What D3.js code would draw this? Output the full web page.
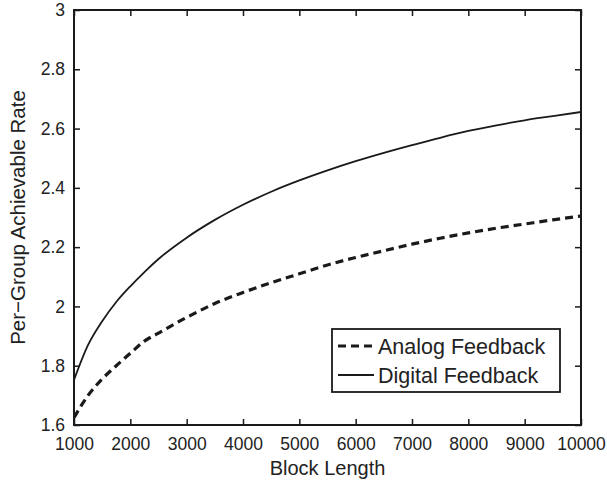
<!DOCTYPE html>
<meta charset="utf-8">
<style>
    body { margin: 0; background: #fff; }
    text { font-family: "Liberation Sans", Arial, sans-serif; fill: #222; }
</style>
<svg width="607" height="482"></svg>
<script src="https://cdn.jsdelivr.net/npm/d3@7"></script>
<script>
    // block lengths and per-group rates
    var blockLength = [1000, 1250, 1500, 1750, 2000, 2250, 2500, 3000, 3500, 4000, 4500, 5000,
        5500, 6000, 6500, 7000, 7500, 8000, 8500, 9000, 9500, 10000];
    var analogRate = [1.625, 1.70, 1.755, 1.80, 1.842, 1.883, 1.91, 1.963, 2.010, 2.047, 2.08, 2.11,
        2.14, 2.165, 2.188, 2.21, 2.23, 2.248, 2.264, 2.278, 2.292, 2.305];
    var digitalRate = [1.752, 1.87, 1.95, 2.015, 2.068, 2.116, 2.16, 2.232, 2.292, 2.343, 2.387, 2.425,
        2.459, 2.49, 2.518, 2.544, 2.569, 2.592, 2.611, 2.628, 2.642, 2.656];
    var xTicks = [1000, 2000, 3000, 4000, 5000, 6000, 7000, 8000, 9000, 10000];
    var yTicks = [1.6, 1.8, 2, 2.2, 2.4, 2.6, 2.8, 3];
    var seriesNames = ["Analog Feedback", "Digital Feedback"];

    var svg = d3.select("svg"),
        margin = { top: 10, right: 26, bottom: 57, left: 74 },
        width = +svg.attr("width") - margin.left - margin.right,
        height = +svg.attr("height") - margin.top - margin.bottom;

    var x = d3.scaleLinear().domain([1000, 10000]).range([0, width]),
        y = d3.scaleLinear().domain([1.6, 3]).range([height, 0]);

    var g = svg.append("g")
        .attr("transform", "translate(" + margin.left + "," + margin.top + ")");

    var series = [
        { name: seriesNames[0], values: analogRate, dash: "8,5", width: 3.2 },
        { name: seriesNames[1], values: digitalRate, dash: null, width: 1.8 }
    ];

    var line = d3.line()
        .curve(d3.curveMonotoneX)
        .x(function (d) { return x(d[0]); })
        .y(function (d) { return y(d[1]); });

    g.append("defs").append("clipPath").attr("id", "clip")
        .append("rect").attr("width", width).attr("height", height);

    series.forEach(function (s) {
        g.append("path")
            .datum(blockLength.map(function (b, i) { return [b, s.values[i]]; }))
            .attr("clip-path", "url(#clip)")
            .attr("fill", "none")
            .attr("stroke", "#1a1a1a")
            .attr("stroke-width", s.width)
            .attr("stroke-dasharray", s.dash)
            .attr("d", line);
    });

    // axes, matlab style: ticks inside on all four sides
    function styleAxis(sel) {
        sel.select(".domain").remove();
        sel.selectAll(".tick line").attr("stroke", "#1a1a1a").attr("stroke-width", 1.5);
        sel.selectAll(".tick text").attr("font-size", 17.5).attr("fill", "#222");
    }

    g.append("g")
        .attr("transform", "translate(0," + height + ")")
        .call(d3.axisBottom(x).tickValues(xTicks).tickSize(-6).tickPadding(13).tickFormat(d3.format("d")))
        .call(styleAxis);
    g.append("g")
        .call(d3.axisTop(x).tickValues(xTicks).tickSize(-6).tickFormat(""))
        .call(styleAxis);
    g.append("g")
        .call(d3.axisLeft(y).tickValues(yTicks).tickSize(-6).tickPadding(9).tickFormat(d3.format("")))
        .call(styleAxis);
    g.append("g")
        .attr("transform", "translate(" + width + ",0)")
        .call(d3.axisRight(y).tickValues(yTicks).tickSize(-6).tickFormat(""))
        .call(styleAxis);

    g.append("rect")
        .attr("width", width).attr("height", height)
        .attr("fill", "none").attr("stroke", "#1a1a1a").attr("stroke-width", 2);

    // axis labels
    svg.append("text")
        .attr("x", margin.left + width / 2).attr("y", 475)
        .attr("text-anchor", "middle").attr("font-size", 20)
        .text("Block Length");
    svg.append("text")
        .attr("transform", "translate(25," + (margin.top + height / 2) + ") rotate(-90)")
        .attr("text-anchor", "middle").attr("font-size", 20.5)
        .text("Per\u2212Group Achievable Rate");

    // legend
    var legend = svg.append("g").attr("transform", "translate(332,329)");
    legend.append("rect")
        .attr("width", 228).attr("height", 63)
        .attr("fill", "#fff").attr("stroke", "#1a1a1a").attr("stroke-width", 1.8);
    series.forEach(function (s, i) {
        var ly = 17 + i * 29;
        legend.append("line")
            .attr("x1", 6).attr("x2", 42).attr("y1", ly).attr("y2", ly)
            .attr("stroke", "#1a1a1a")
            .attr("stroke-width", s.width)
            .attr("stroke-dasharray", s.dash);
        legend.append("text")
            .attr("x", 46).attr("y", ly).attr("dy", "0.36em")
            .attr("font-size", 21.5)
            .text(s.name);
    });
</script>
